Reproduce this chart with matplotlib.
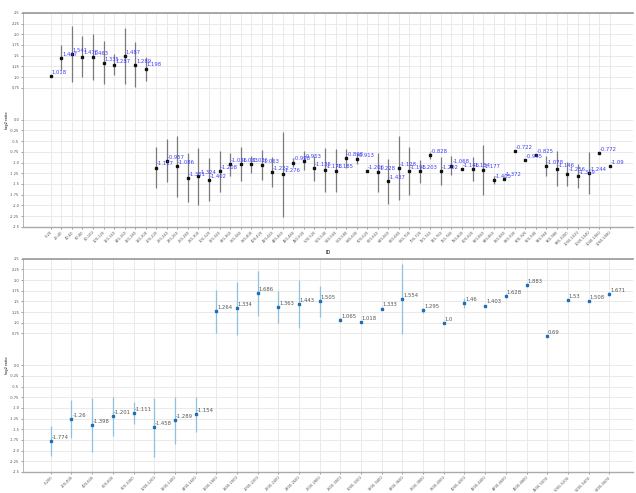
import numpy as np
import matplotlib
matplotlib.use('Agg')
import matplotlib.pyplot as plt

# top panel: 54 bins
top_labels = ['0-20', '20-40', '40-60', '60-80', '80-100', '100-120', '120-140', '140-160',
              '160-180', '180-200', '200-220', '220-240', '240-260', '260-280', '280-300',
              '300-320', '320-340', '340-360', '360-380', '380-400', '400-420', '420-440',
              '440-460', '460-480', '480-500', '500-520', '520-540', '540-560', '560-580',
              '580-600', '600-620', '620-640', '640-660', '660-680', '680-700', '700-720',
              '720-740', '740-760', '760-780', '780-800', '800-820', '820-840', '840-860',
              '860-880', '880-900', '900-920', '920-940', '940-960', '960-980', '980-1000',
              '1000-1020', '1020-1040', '1040-1060', '1060-1080']
top_vals = [1.018, 1.447, 1.541, 1.478, 1.463, 1.335, 1.287, 1.487, 1.289, 1.198,
            -1.117, -0.957, -1.086, -1.351, -1.324, -1.402, -1.208, -1.036, -1.033, -1.036,
            -1.063, -1.222, -1.276, -0.998, -0.953, -1.135, -1.178, -1.185, -0.898, -0.913,
            -1.206, -1.228, -1.437, -1.128, -1.195, -1.203, -0.828, -1.202, -1.068, -1.146,
            -1.154, -1.177, -1.405, -1.372, -0.722, -0.945, -0.825, -1.078, -1.146, -1.256,
            -1.319, -1.244, -0.772, -1.09]
top_err = [0, 0.29, 0.66, 0.47, 0.54, 0.5, 0.24, 0.66, 0.52, 0.28,
           0.47, 0.5, 0.71, 0.58, 0.66, 0.5, 0.47, 0.27, 0.4, 0.2,
           0.35, 0.36, 1.0, 0.1, 0.23, 0.29, 0.51, 0.51, 0.22, 0.13,
           0, 0.45, 0.53, 0.74, 0.56, 0.27, 0.08, 0.33, 0.23, 0,
           0.28, 0.59, 0.09, 0.03, 0, 0, 0, 0.23, 0.41, 0.28,
           0.28, 0.49, 0, 0]

# bottom panel: 28 bins
bot_labels = ['0-200', '200-400', '400-600', '600-800', '800-1000', '1000-1200', '1200-1400',
              '1400-1600', '1600-1800', '1800-2000', '2000-2200', '2200-2400', '2400-2600',
              '2600-2800', '2800-3000', '3000-3200', '3200-3400', '3400-3600', '3600-3800',
              '3800-4000', '4000-4200', '4200-4400', '4400-4600', '4600-4800', '4800-5000',
              '5000-5200', '5200-5400', '5400-5600']
bot_vals = [-1.774, -1.26, -1.398, -1.201, -1.111, -1.458, -1.289, -1.154,
            1.264, 1.334, 1.686, 1.363, 1.443, 1.505, 1.065, 1.018, 1.333, 1.554,
            1.295, 1.0, 1.46, 1.403, 1.628, 1.883, 0.69, 1.53, 1.508, 1.671]
bot_err = [0.35, 0.45, 0.63, 0.45, 0.26, 0.69, 0.55, 0.41,
           0.51, 0.63, 0.52, 0.38, 0.57, 0.36, 0.05, 0, 0.04, 0.82,
           0.06, 0.02, 0.12, 0.02, 0.04, 0.05, 0.02, 0.03, 0.02, 0.05]

yticks = [-2.5, -2.25, -2.0, -1.75, -1.5, -1.25, -1.0, -0.75, -0.5, -0.25, 0.0,
          0.75, 1.0, 1.25, 1.5, 1.75, 2.0, 2.25, 2.5]

narrow = ['Liberation Sans Narrow', 'DejaVu Sans']

fig = plt.figure(figsize=(6.36, 4.93), dpi=100)
ax1 = fig.add_axes([0.036, 0.540, 0.959, 0.434])
ax2 = fig.add_axes([0.036, 0.043, 0.959, 0.432])


def style(ax, labels):
    ax.set_ylim(-2.5, 2.5)
    ax.set_yticks(yticks)
    ax.set_yticklabels([str(t) for t in yticks])
    ax.set_xticks(range(len(labels)))
    ax.set_xticklabels(labels, rotation=45, ha='right', rotation_mode='anchor')
    ax.tick_params(axis='both', labelsize=2.6, length=1.5, width=0.4, pad=1,
                   colors='#555555')
    ax.grid(True, color='#e6e6e6', linewidth=0.6)
    ax.set_axisbelow(True)
    ax.spines['right'].set_visible(False)
    ax.spines['top'].set_color('#999999')
    ax.spines['top'].set_linewidth(1.2)
    ax.spines['bottom'].set_color('#aaaaaa')
    ax.spines['bottom'].set_linewidth(1.0)
    ax.spines['left'].set_color('#aaaaaa')
    ax.spines['left'].set_linewidth(0.6)


x1 = np.arange(len(top_vals))
ax1.errorbar(x1, top_vals, yerr=top_err, fmt='s', ms=1.5, color='#111111',
             ecolor='#7a7a7a', elinewidth=0.9, capsize=0)
for xi, v in zip(x1, top_vals):
    ax1.annotate(str(v), (xi, v), xytext=(0.6, 0.8), textcoords='offset points',
                 fontsize=3.8, family=narrow, color='#3b3bff', ha='left', va='bottom')
style(ax1, top_labels)
ax1.set_xlim(-2.65, 55.2)
ax1.set_ylabel('log2 ratio', fontsize=2.6, labelpad=1)
ax1.set_xlabel('ID', fontsize=3.5, labelpad=2)

x2 = np.arange(len(bot_vals))
ax2.errorbar(x2, bot_vals, yerr=bot_err, fmt='s', ms=1.5, color='#1f6fb4',
             ecolor='#8fc0e0', elinewidth=0.9, capsize=0)
for xi, v in zip(x2, bot_vals):
    ax2.annotate(str(v), (xi, v), xytext=(0.6, 0.8), textcoords='offset points',
                 fontsize=3.8, family=narrow, color='#555555', ha='left', va='bottom')
style(ax2, bot_labels)
ax2.set_xlim(-1.35, 28.14)
ax2.set_ylabel('log2 ratio', fontsize=2.6, labelpad=1)

fig.savefig('out.png', dpi=100)
